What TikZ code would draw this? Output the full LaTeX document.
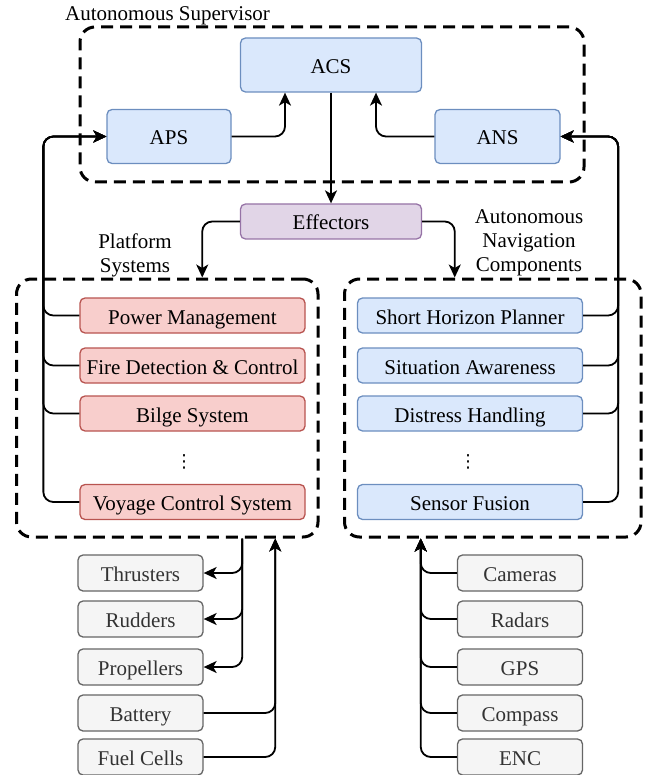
\documentclass[tikz,border=0pt]{standalone}
\usepackage{fontspec}
\setmainfont{Liberation Serif}
\newfontfamily\dotsfont{DejaVu Sans}
\usetikzlibrary{arrows.meta}

\definecolor{blufill}{HTML}{DAE8FC}
\definecolor{bluline}{HTML}{6C8EBF}
\definecolor{redfill}{HTML}{F8CECC}
\definecolor{redline}{HTML}{B85450}
\definecolor{purfill}{HTML}{E1D5E7}
\definecolor{purline}{HTML}{9673A6}
\definecolor{gryfill}{HTML}{F5F5F5}
\definecolor{gryline}{HTML}{666666}
\definecolor{grytext}{HTML}{333333}

\begin{document}
\begin{tikzpicture}[x=1pt, y=-1pt, every node/.style={font=\fontsize{21}{24}\selectfont},
	>={Stealth[length=13pt,width=12pt,inset=3.5pt]},
	unit/.style={draw, rounded corners=5pt, line width=1.3pt, inner sep=0pt, text height=17pt, text depth=0pt, minimum width=225pt, minimum height=35pt},
	bluunit/.style={unit, fill=blufill, draw=bluline},
	redunit/.style={unit, fill=redfill, draw=redline},
	gryunit/.style={unit, fill=gryfill, draw=gryline, text=grytext, minimum width=125pt, minimum height=36pt},
	group/.style={draw, line width=3pt, dash pattern=on 12pt off 7pt, rounded corners=15pt, inner sep=0pt},
	vdots/.style={font=\dotsfont\fontsize{18}{20}\selectfont, inner sep=0pt},
	flow/.style={->, line width=1.8pt, rounded corners=10pt}]
	\useasboundingbox (0,0) rectangle (647,775);

	\node[group, minimum width=504pt, minimum height=155pt] (sup) at (332,104.5) {};
	\node[anchor=west, inner sep=0pt] (suplbl) at (65,15.5) {Autonomous Supervisor};
	\node[bluunit, minimum width=181pt, minimum height=54pt] (acs) at (331,65) {ACS};
	\node[bluunit, minimum width=124pt, minimum height=54pt] (aps) at (169,136.5) {APS};
	\node[bluunit, minimum width=125pt, minimum height=54pt] (ans) at (497.5,136.5) {ANS};
	\node[unit, fill=purfill, draw=purline, minimum width=181pt] (eff) at (331,221.5) {Effectors};

	\node[group, minimum width=301.5pt, minimum height=258pt] (platsys) at (167.25,408) {};
	\node[group, minimum width=296.5pt, minimum height=258pt] (navsys) at (492.75,408) {};
	\node[align=center, inner sep=0pt] (platlbl) at (135,255) {Platform\\Systems};
	\node[align=center, inner sep=0pt] (navlbl) at (529,243) {Autonomous\\Navigation\\Components};

	\node[redunit] (pm) at (192.5,315.5) {Power Management};
	\node[redunit] (fdc) at (192.5,365.5) {Fire Detection \& Control};
	\node[redunit] (bilge) at (192.5,413.5) {Bilge System};
	\node[vdots] (platdots) at (184,461.5) {⋮};
	\node[redunit] (vcs) at (192.5,502) {Voyage Control System};

	\node[bluunit] (shp) at (470,315.5) {Short Horizon Planner};
	\node[bluunit] (sa) at (470,365.5) {Situation Awareness};
	\node[bluunit] (dh) at (470,413.5) {Distress Handling};
	\node[vdots] (navdots) at (468,461.5) {⋮};
	\node[bluunit] (sf) at (470,502) {Sensor Fusion};

	\node[gryunit] (thr) at (140.5,573) {Thrusters};
	\node[gryunit] (rud) at (140.5,619) {Rudders};
	\node[gryunit] (prop) at (140.5,667) {Propellers};
	\node[gryunit] (bat) at (140.5,713) {Battery};
	\node[gryunit] (fuel) at (140.5,757) {Fuel Cells};

	\node[gryunit] (cam) at (520,573) {Cameras};
	\node[gryunit] (rad) at (520,619) {Radars};
	\node[gryunit] (gps) at (520,667) {GPS};
	\node[gryunit] (comp) at (520,713) {Compass};
	\node[gryunit] (enc) at (520,757) {ENC};

	\draw[flow] (aps.east) -| ([xshift=-46pt]acs.south);
	\draw[flow] (ans.west) -| ([xshift=45pt]acs.south);
	\draw[flow] (acs.south) -- (eff.north);
	\draw[flow] (eff.west) -| ([xshift=35pt]platsys.north);
	\draw[flow] (eff.east) -| ([xshift=-38pt]navsys.north);

	\draw[flow] (pm.west) -- ++(-36,0) |- (aps.west);
	\draw[flow] (fdc.west) -- ++(-36,0) |- (aps.west);
	\draw[flow] (bilge.west) -- ++(-36,0) |- (aps.west);
	\draw[flow] (vcs.west) -- ++(-36,0) |- (aps.west);
	\draw[flow] (shp.east) -- ++(35,0) |- (ans.east);
	\draw[flow] (sa.east) -- ++(35,0) |- (ans.east);
	\draw[flow] (dh.east) -- ++(35,0) |- (ans.east);
	\draw[flow] (sf.east) -- ++(35,0) |- (ans.east);

	\draw[flow] ([xshift=75pt]platsys.south) |- (thr.east);
	\draw[flow] ([xshift=75pt]platsys.south) |- (rud.east);
	\draw[flow] ([xshift=75pt]platsys.south) |- (prop.east);
	\draw[flow] (bat.east) -| ([xshift=108pt]platsys.south);
	\draw[flow] (fuel.east) -| ([xshift=108pt]platsys.south);

	\draw[flow] (cam.west) -| ([xshift=-72pt]navsys.south);
	\draw[flow] (rad.west) -| ([xshift=-72pt]navsys.south);
	\draw[flow] (gps.west) -| ([xshift=-72pt]navsys.south);
	\draw[flow] (comp.west) -| ([xshift=-72pt]navsys.south);
	\draw[flow] (enc.west) -| ([xshift=-72pt]navsys.south);
\end{tikzpicture}
\end{document}
